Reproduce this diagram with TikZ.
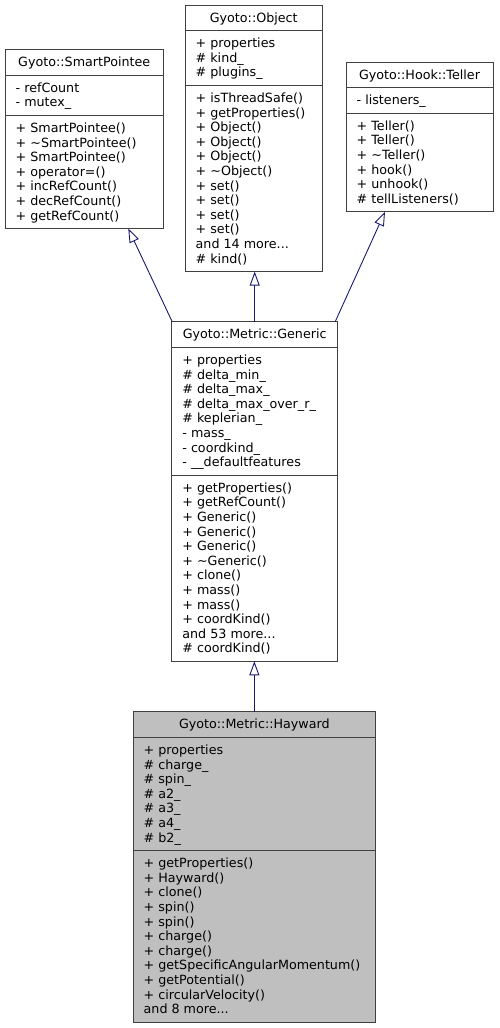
\documentclass[tikz,border=0pt]{standalone}
\usepackage{fontspec}
\setmainfont{DejaVu Sans}
\usetikzlibrary{arrows.meta}
\definecolor{edgeblue}{HTML}{191970}
\definecolor{boxgray}{HTML}{BFBFBF}
\definecolor{bordergray}{HTML}{404040}
\newcount\lineidx
\def\sx{0}\def\sy{0}\def\sname{a}
\newcommand\startsec[3]{\gdef\sx{#1}\gdef\sy{#2}\gdef\sname{#3}\global\lineidx=0\relax}
\newcommand\ul[1]{\node[umltext] (\sname\the\lineidx) at (\sx+10.5, \sy+17.1+\the\lineidx*14.6) {#1};\global\advance\lineidx by 1\relax}
\tikzset{
  umltext/.style={anchor=base west, inner sep=0pt, font=\fontsize{12.7}{14.6}\selectfont, text=black},
  umltitle/.style={anchor=base, inner sep=0pt, font=\fontsize{12.7}{14.6}\selectfont, text=black},
  classbox/.style={draw=bordergray, line width=1pt, fill=white, anchor=north west, inner sep=0pt, outer sep=0pt},
  sepline/.style={draw=bordergray, line width=1pt},
  inh/.style={draw=edgeblue, line width=0.9pt, -{Triangle[length=14pt, width=10pt, fill=white]}}
}
\begin{document}
\begin{tikzpicture}[x=1pt, y=-1pt]
\useasboundingbox (0,0) rectangle (499,1028);

% ---------- Gyoto::SmartPointee ----------
\node[classbox, minimum width=158.5pt, minimum height=179pt] (sp) at (5,49.5) {};
\draw[sepline] (5,75.1) -- (163.5,75.1);
\draw[sepline] (5,115.3) -- (163.5,115.3);
\node[umltitle] (sp-title) at (84.25,66.6) {Gyoto::SmartPointee};
\startsec{5}{75.1}{spa}
\ul{- refCount}
\ul{- mutex\_}
\startsec{5}{115.3}{spm}
\ul{+ SmartPointee()}
\ul{+ \textasciitilde SmartPointee()}
\ul{+ SmartPointee()}
\ul{+ operator=()}
\ul{+ incRefCount()}
\ul{+ decRefCount()}
\ul{+ getRefCount()}

% ---------- Gyoto::Object ----------
\node[classbox, minimum width=137.5pt, minimum height=266.6pt] (obj) at (185,5) {};
\draw[sepline] (185,30.6) -- (322.5,30.6);
\draw[sepline] (185,85.4) -- (322.5,85.4);
\node[umltitle] (obj-title) at (253.75,22.1) {Gyoto::Object};
\startsec{185}{30.6}{oba}
\ul{+ properties}
\ul{\# kind\_}
\ul{\# plugins\_}
\startsec{185}{85.4}{obm}
\ul{+ isThreadSafe()}
\ul{+ getProperties()}
\ul{+ Object()}
\ul{+ Object()}
\ul{+ Object()}
\ul{+ \textasciitilde Object()}
\ul{+ set()}
\ul{+ set()}
\ul{+ set()}
\ul{+ set()}
\ul{and 14 more...}
\ul{\# kind()}

% ---------- Gyoto::Hook::Teller ----------
\node[classbox, minimum width=147pt, minimum height=149.8pt] (tel) at (346,62) {};
\draw[sepline] (346,87.6) -- (493,87.6);
\draw[sepline] (346,113.2) -- (493,113.2);
\node[umltitle] (tel-title) at (419.5,79.1) {Gyoto::Hook::Teller};
\startsec{346}{87.6}{tea}
\ul{- listeners\_}
\startsec{346}{113.2}{tem}
\ul{+ Teller()}
\ul{+ Teller()}
\ul{+ \textasciitilde Teller()}
\ul{+ hook()}
\ul{+ unhook()}
\ul{\# tellListeners()}

% ---------- Gyoto::Metric::Generic ----------
\node[classbox, minimum width=166pt, minimum height=339.6pt] (gen) at (171.7,321.7) {};
\draw[sepline] (171.7,347.3) -- (337.7,347.3);
\draw[sepline] (171.7,475.1) -- (337.7,475.1);
\node[umltitle] (gen-title) at (254.7,338.8) {Gyoto::Metric::Generic};
\startsec{171.7}{347.3}{gea}
\ul{+ properties}
\ul{\# delta\_min\_}
\ul{\# delta\_max\_}
\ul{\# delta\_max\_over\_r\_}
\ul{\# keplerian\_}
\ul{- mass\_}
\ul{- coordkind\_}
\ul{- \_\_defaultfeatures}
\startsec{171.7}{475.1}{gem}
\ul{+ getProperties()}
\ul{+ getRefCount()}
\ul{+ Generic()}
\ul{+ Generic()}
\ul{+ Generic()}
\ul{+ \textasciitilde Generic()}
\ul{+ clone()}
\ul{+ mass()}
\ul{+ mass()}
\ul{+ coordKind()}
\ul{and 53 more...}
\ul{\# coordKind()}

% ---------- Gyoto::Metric::Hayward ----------
\node[classbox, fill=boxgray, minimum width=242.7pt, minimum height=310.4pt] (hay) at (133,711.7) {};
\draw[sepline] (133,737.3) -- (375.7,737.3);
\draw[sepline] (133,850.5) -- (375.7,850.5);
\node[umltitle] (hay-title) at (254.35,728.8) {Gyoto::Metric::Hayward};
\startsec{133}{737.3}{haa}
\ul{+ properties}
\ul{\# charge\_}
\ul{\# spin\_}
\ul{\# a2\_}
\ul{\# a3\_}
\ul{\# a4\_}
\ul{\# b2\_}
\startsec{133}{850.5}{ham}
\ul{+ getProperties()}
\ul{+ Hayward()}
\ul{+ clone()}
\ul{+ spin()}
\ul{+ spin()}
\ul{+ charge()}
\ul{+ charge()}
\ul{+ getSpecificAngularMomentum()}
\ul{+ getPotential()}
\ul{+ circularVelocity()}
\ul{and 8 more...}

% ---------- inheritance connectors ----------
\draw[inh] ([xshift=0.5pt]gen.north west) -- ([xshift=44pt]sp.south);
\draw[inh] (gen.north) -- (gen.north |- obj.south);
\draw[inh] ([xshift=-2.5pt]gen.north east) -- ([xshift=-34.5pt]tel.south);
\draw[inh] (hay.north) -- (hay.north |- gen.south);
\end{tikzpicture}
\end{document}
